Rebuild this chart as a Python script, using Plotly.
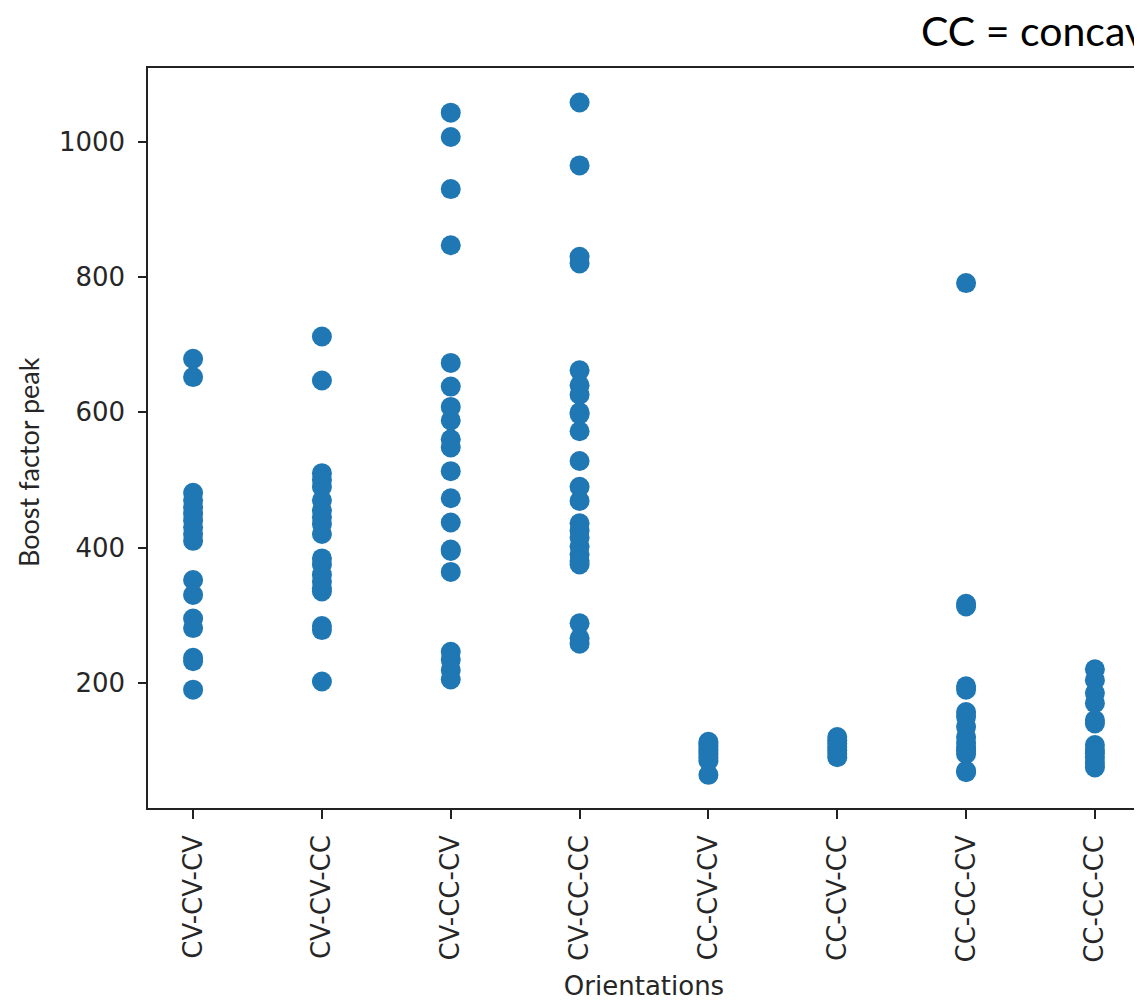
import plotly.graph_objects as go

categories = ["CV-CV-CV", "CV-CV-CC", "CV-CC-CV", "CV-CC-CC",
              "CC-CV-CV", "CC-CV-CC", "CC-CC-CV", "CC-CC-CC"]

cv_cv_cv = [679, 652, 481, 470, 460, 450, 440, 430, 420, 410, 352, 330, 295, 281, 237, 232, 190]
cv_cv_cc = [712, 647, 510, 500, 490, 470, 455, 445, 435, 420, 384, 375, 360, 350, 340, 335, 284, 278, 202]
cv_cc_cv = [1043, 1007, 930, 847, 673, 638, 608, 588, 560, 548, 513, 473, 437, 397, 395, 364, 246, 234, 219, 205]
cv_cc_cc = [1058, 965, 830, 820, 662, 640, 626, 600, 597, 572, 528, 490, 469, 436, 425, 415, 402, 390, 380, 375, 288, 266, 258]
cc_cv_cv = [113, 110, 106, 102, 98, 94, 90, 85, 64]
cc_cv_cc = [120, 115, 110, 105, 100, 95, 90]
cc_cc_cv = [791, 317, 313, 195, 190, 157, 150, 135, 120, 112, 105, 100, 95, 70, 68]
cc_cc_cc = [220, 204, 185, 170, 145, 140, 108, 100, 96, 90, 82, 75]

series = [cv_cv_cv, cv_cv_cc, cv_cc_cv, cv_cc_cc, cc_cv_cv, cc_cv_cc, cc_cc_cv, cc_cc_cc]

xs, ys = [], []
for cat, vals in zip(categories, series):
    xs += [cat] * len(vals)
    ys += vals

fig = go.Figure()
fig.add_trace(go.Scatter(
    x=xs, y=ys, mode="markers",
    marker=dict(color="#1f77b4", size=20, line=dict(width=0)),
    showlegend=False, cliponaxis=False,
))

font = "DejaVu Sans"
tcol = "#262626"
fig.update_layout(
    width=1134, height=993,
    margin=dict(l=140, r=2, t=60, b=193),
    paper_bgcolor="white", plot_bgcolor="white",
    font=dict(family=font, size=26, color=tcol),
    xaxis=dict(
        type="category", categoryorder="array", categoryarray=categories,
        range=[-0.35, 7.35], showgrid=False, zeroline=False,
        showline=True, linecolor="#222", linewidth=1.5, mirror=True,
        ticks="outside", ticklen=9, tickwidth=1.5, tickcolor="#222",
        ticklabelstandoff=6,
        tickangle=-90, tickfont=dict(family=font, size=26, color=tcol),
        title=dict(text="Orientations", font=dict(family=font, size=26, color=tcol), standoff=16),
        automargin=False,
    ),
    yaxis=dict(
        range=[15, 1109], tickvals=[200, 400, 600, 800, 1000],
        showgrid=False, zeroline=False,
        showline=True, linecolor="#222", linewidth=1.5, mirror=True,
        ticks="outside", ticklen=8, tickwidth=1.5, tickcolor="#222",
        ticklabelstandoff=8,
        tickfont=dict(family=font, size=26, color=tcol),
        automargin=False,
    ),
    annotations=[
        dict(
            text="CC = concave", xref="paper", yref="paper",
            x=(911 - 140) / 992, y=1 + (60 - 22) / 740, xanchor="left", yanchor="middle",
            showarrow=False, font=dict(family="Lato", size=41, color="black"),
        ),
        dict(
            text="Boost factor peak", xref="paper", yref="paper",
            x=(20 - 140) / 992, y=1 - (454 - 60) / 740, xanchor="center", yanchor="middle",
            textangle=-90, showarrow=False, font=dict(family="Lato", size=27, color=tcol),
        ),
    ],
)

fig.write_html("out.html")
